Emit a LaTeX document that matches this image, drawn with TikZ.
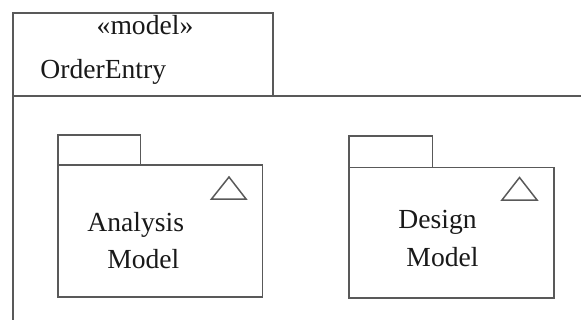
\documentclass[tikz,border=0pt]{standalone}
\usepackage{fontspec}
\setmainfont{Liberation Serif}
\usepackage{tikz}

\begin{document}
\begin{tikzpicture}[
    x=0.5pt, y=-0.5pt,
    frame/.style={draw=black!65, line width=0.75pt},
    label/.style={font={\fontsize{13.8}{16}\selectfont}, text=black!90, inner sep=0pt, anchor=base},
    ]
        \useasboundingbox (0,0) rectangle (581,320);
        % Outer package
        \draw[frame] (13,13) rectangle (273,96);
        \draw[frame] (13,96) -- (581,96);
        \draw[frame] (13,96) -- (13,320);
        \node[label] (stereo) at (145,35) {«model»};
        \node[label, anchor=base west] (pkgname) at (40,78.5) {OrderEntry};
        % Analysis package
        \draw[frame] (58,135) rectangle (140.5,165);
        \draw[frame] (58,165) rectangle (262.5,297);
        \draw[frame] (211.5,199) -- (229,177) -- (246,199) -- cycle;
        \node[label] (analysis) at (135.7,231.7) {Analysis};
        \node[label] (analysismodel) at (143.3,268.3) {Model};
        % Design package
        \draw[frame] (349,136) rectangle (432.3,167.5);
        \draw[frame] (349,167.5) rectangle (554,298);
        \draw[frame] (502,200) -- (519.5,177.5) -- (537,200) -- cycle;
        \node[label] (design) at (437.5,228.3) {Design};
        \node[label] (designmodel) at (442.5,266.7) {Model};

    \end{tikzpicture}
\end{document}
